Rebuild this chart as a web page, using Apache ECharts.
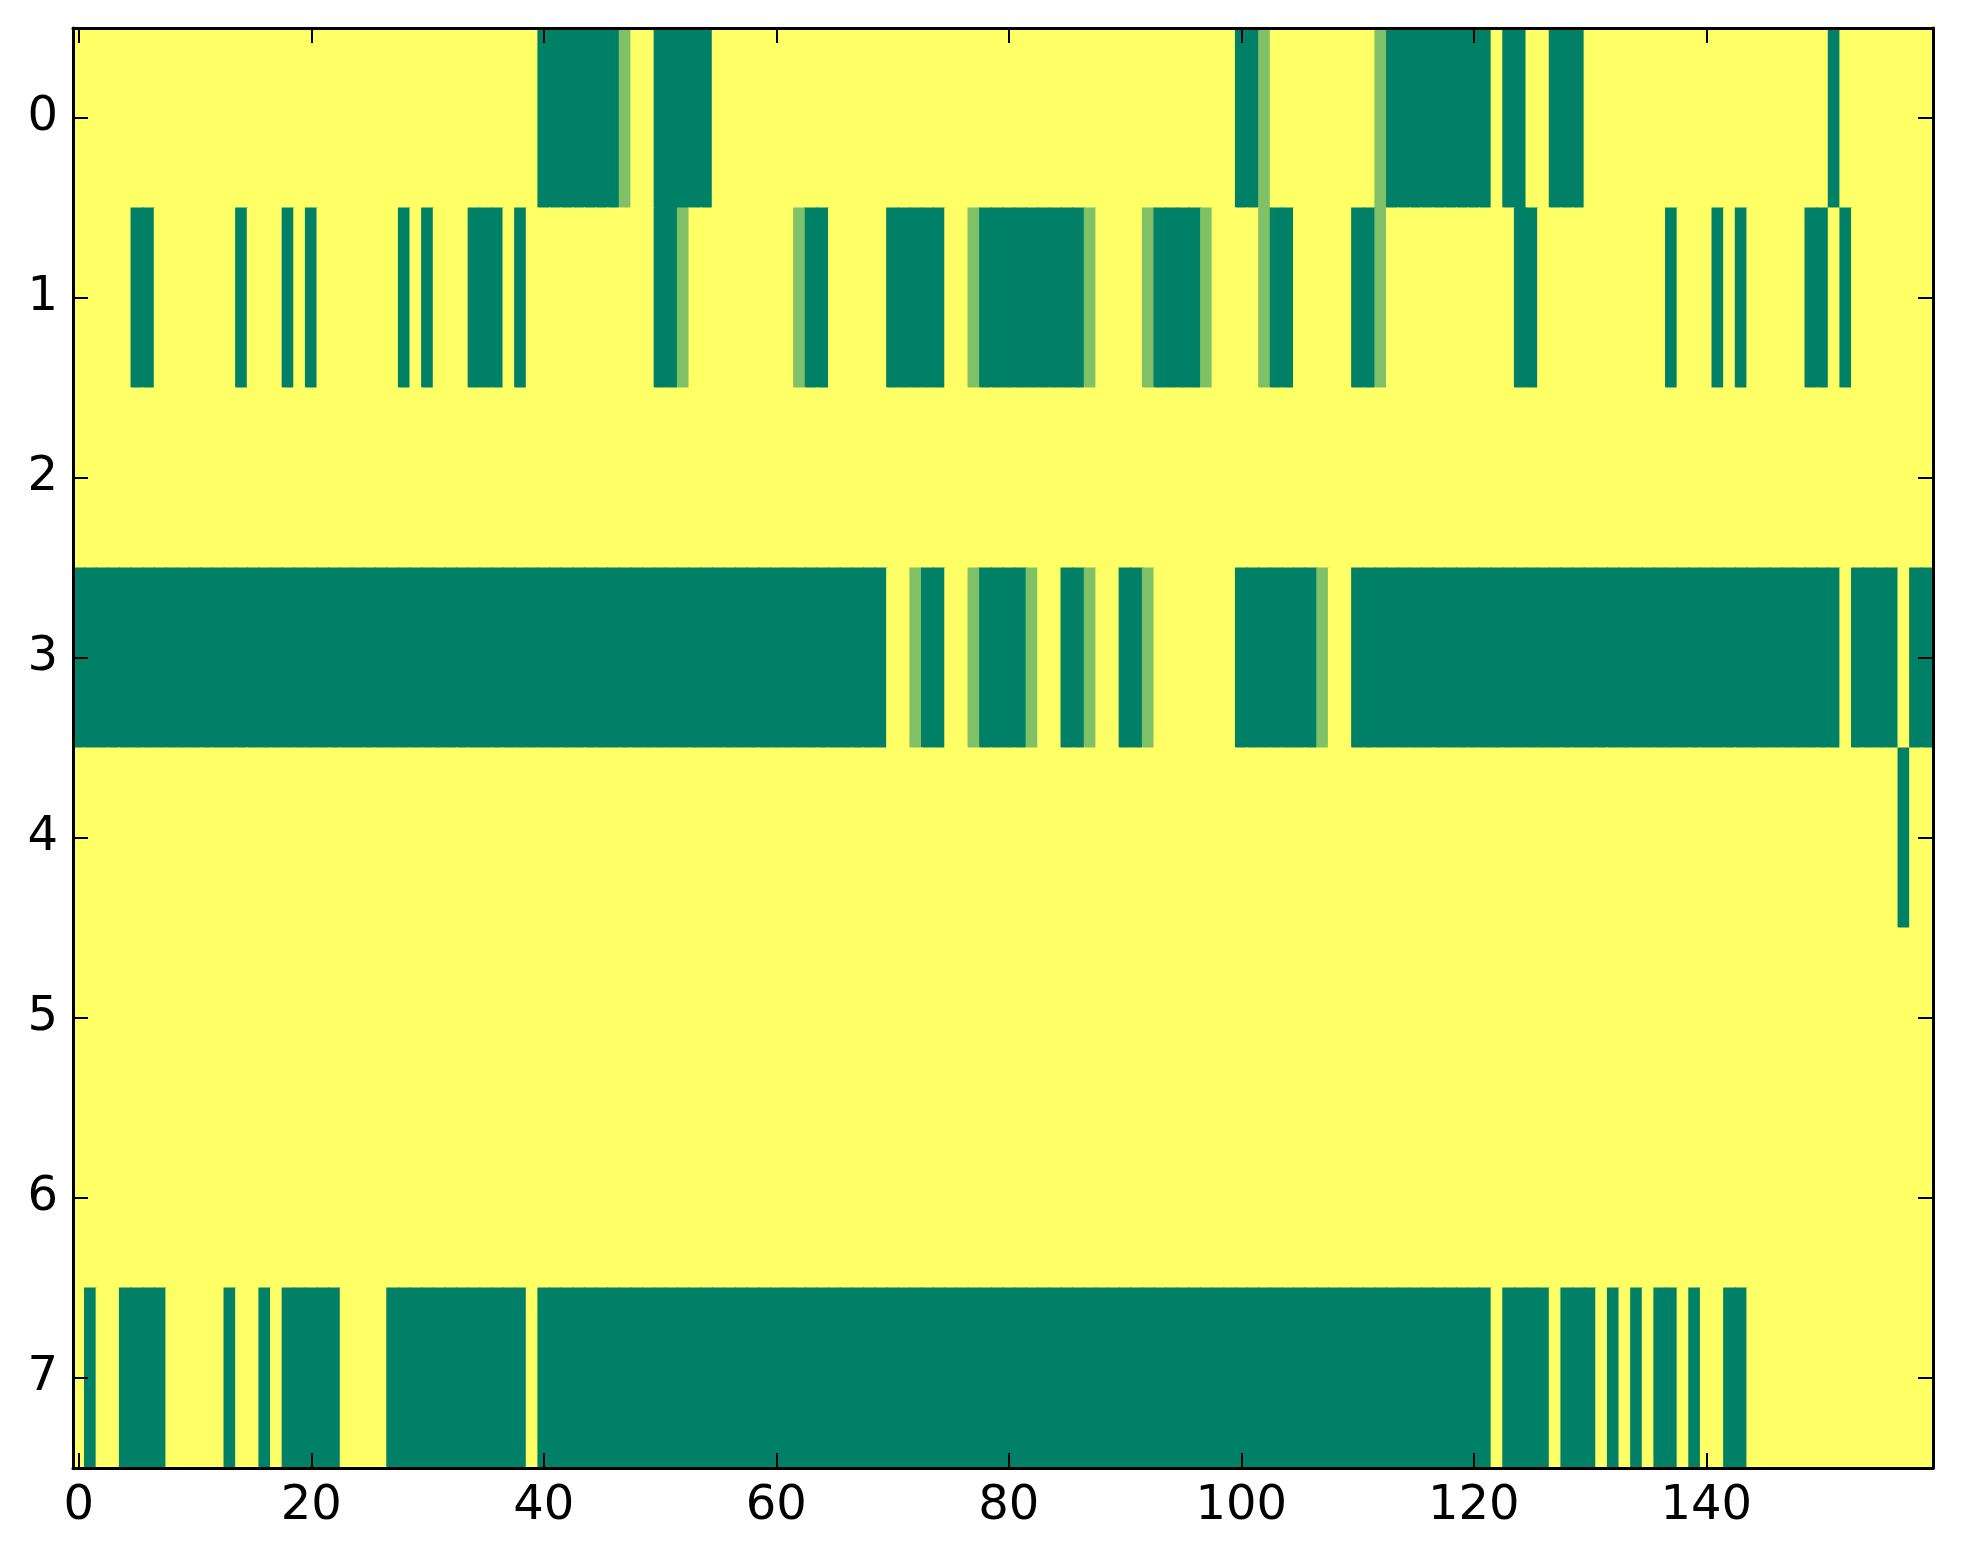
<!DOCTYPE html>
<html>
<head>
<meta charset="utf-8">
<script src="https://cdn.jsdelivr.net/npm/echarts@6/dist/echarts.min.js"></script>
<style>
html,body{margin:0;padding:0;background:#fff;}
#c{width:1963px;height:1564px;}
</style>
</head>
<body>
<div id="c"></div>
<script>
// Column categories 0..159 and row categories 0..7
const xCategories = Array.from({length:160}, (_, i) => String(i));
const yCategories = ['0','1','2','3','4','5','6','7'];
const xTickLabels = ['0','20','40','60','80','100','120','140'];

// Cell values per row (0 = dark green, 0.5 = mid green, 1 = yellow)
const row0 = [
 1,1,1,1,1,1,1,1,1,1,1,1,1,1,1,1,1,1,1,1,
 1,1,1,1,1,1,1,1,1,1,1,1,1,1,1,1,1,1,1,1,
 0,0,0,0,0,0,0,0.5,1,1,0,0,0,0,0,1,1,1,1,1,
 1,1,1,1,1,1,1,1,1,1,1,1,1,1,1,1,1,1,1,1,
 1,1,1,1,1,1,1,1,1,1,1,1,1,1,1,1,1,1,1,1,
 0,0,0.5,1,1,1,1,1,1,1,1,1,0.5,0,0,0,0,0,0,0,
 0,0,1,0,0,1,1,0,0,0,1,1,1,1,1,1,1,1,1,1,
 1,1,1,1,1,1,1,1,1,1,1,0,1,1,1,1,1,1,1,1
];
const row1 = [
 1,1,1,1,1,0,0,1,1,1,1,1,1,1,0,1,1,1,0,1,
 0,1,1,1,1,1,1,1,0,1,0,1,1,1,0,0,0,1,0,1,
 1,1,1,1,1,1,1,1,1,1,0,0,0.5,1,1,1,1,1,1,1,
 1,1,0.5,0,0,1,1,1,1,1,0,0,0,0,0,1,1,0.5,0,0,
 0,0,0,0,0,0,0,0.5,1,1,1,1,0.5,0,0,0,0,0.5,1,1,
 1,1,0.5,0,0,1,1,1,1,1,0,0,0.5,1,1,1,1,1,1,1,
 1,1,1,1,0,0,1,1,1,1,1,1,1,1,1,1,1,0,1,1,
 1,0,1,0,1,1,1,1,1,0,0,1,0,1,1,1,1,1,1,1
];
const row2 = [
 1,1,1,1,1,1,1,1,1,1,1,1,1,1,1,1,1,1,1,1,
 1,1,1,1,1,1,1,1,1,1,1,1,1,1,1,1,1,1,1,1,
 1,1,1,1,1,1,1,1,1,1,1,1,1,1,1,1,1,1,1,1,
 1,1,1,1,1,1,1,1,1,1,1,1,1,1,1,1,1,1,1,1,
 1,1,1,1,1,1,1,1,1,1,1,1,1,1,1,1,1,1,1,1,
 1,1,1,1,1,1,1,1,1,1,1,1,1,1,1,1,1,1,1,1,
 1,1,1,1,1,1,1,1,1,1,1,1,1,1,1,1,1,1,1,1,
 1,1,1,1,1,1,1,1,1,1,1,1,1,1,1,1,1,1,1,1
];
const row3 = [
 0,0,0,0,0,0,0,0,0,0,0,0,0,0,0,0,0,0,0,0,
 0,0,0,0,0,0,0,0,0,0,0,0,0,0,0,0,0,0,0,0,
 0,0,0,0,0,0,0,0,0,0,0,0,0,0,0,0,0,0,0,0,
 0,0,0,0,0,0,0,0,0,0,1,1,0.5,0,0,1,1,0.5,0,0,
 0,0,0.5,1,1,0,0,0.5,1,1,0,0,0.5,1,1,1,1,1,1,1,
 0,0,0,0,0,0,0,0.5,1,1,0,0,0,0,0,0,0,0,0,0,
 0,0,0,0,0,0,0,0,0,0,0,0,0,0,0,0,0,0,0,0,
 0,0,0,0,0,0,0,0,0,0,0,0,1,0,0,0,0,1,0,0
];
const row4 = [
 1,1,1,1,1,1,1,1,1,1,1,1,1,1,1,1,1,1,1,1,
 1,1,1,1,1,1,1,1,1,1,1,1,1,1,1,1,1,1,1,1,
 1,1,1,1,1,1,1,1,1,1,1,1,1,1,1,1,1,1,1,1,
 1,1,1,1,1,1,1,1,1,1,1,1,1,1,1,1,1,1,1,1,
 1,1,1,1,1,1,1,1,1,1,1,1,1,1,1,1,1,1,1,1,
 1,1,1,1,1,1,1,1,1,1,1,1,1,1,1,1,1,1,1,1,
 1,1,1,1,1,1,1,1,1,1,1,1,1,1,1,1,1,1,1,1,
 1,1,1,1,1,1,1,1,1,1,1,1,1,1,1,1,1,0,1,1
];
const row5 = [
 1,1,1,1,1,1,1,1,1,1,1,1,1,1,1,1,1,1,1,1,
 1,1,1,1,1,1,1,1,1,1,1,1,1,1,1,1,1,1,1,1,
 1,1,1,1,1,1,1,1,1,1,1,1,1,1,1,1,1,1,1,1,
 1,1,1,1,1,1,1,1,1,1,1,1,1,1,1,1,1,1,1,1,
 1,1,1,1,1,1,1,1,1,1,1,1,1,1,1,1,1,1,1,1,
 1,1,1,1,1,1,1,1,1,1,1,1,1,1,1,1,1,1,1,1,
 1,1,1,1,1,1,1,1,1,1,1,1,1,1,1,1,1,1,1,1,
 1,1,1,1,1,1,1,1,1,1,1,1,1,1,1,1,1,1,1,1
];
const row6 = [
 1,1,1,1,1,1,1,1,1,1,1,1,1,1,1,1,1,1,1,1,
 1,1,1,1,1,1,1,1,1,1,1,1,1,1,1,1,1,1,1,1,
 1,1,1,1,1,1,1,1,1,1,1,1,1,1,1,1,1,1,1,1,
 1,1,1,1,1,1,1,1,1,1,1,1,1,1,1,1,1,1,1,1,
 1,1,1,1,1,1,1,1,1,1,1,1,1,1,1,1,1,1,1,1,
 1,1,1,1,1,1,1,1,1,1,1,1,1,1,1,1,1,1,1,1,
 1,1,1,1,1,1,1,1,1,1,1,1,1,1,1,1,1,1,1,1,
 1,1,1,1,1,1,1,1,1,1,1,1,1,1,1,1,1,1,1,1
];
const row7 = [
 1,0,1,1,0,0,0,0,1,1,1,1,1,0,1,1,0,1,0,0,
 0,0,0,1,1,1,1,0,0,0,0,0,0,0,0,0,0,0,0,1,
 0,0,0,0,0,0,0,0,0,0,0,0,0,0,0,0,0,0,0,0,
 0,0,0,0,0,0,0,0,0,0,0,0,0,0,0,0,0,0,0,0,
 0,0,0,0,0,0,0,0,0,0,0,0,0,0,0,0,0,0,0,0,
 0,0,0,0,0,0,0,0,0,0,0,0,0,0,0,0,0,0,0,0,
 0,0,1,0,0,0,0,1,0,0,0,1,0,1,0,1,0,0,1,0,
 1,1,0,0,1,1,1,1,1,1,1,1,1,1,1,1,1,1,1,1
];

const rows = [row0,row1,row2,row3,row4,row5,row6,row7];
const cells = [];
rows.forEach((r, y) => r.forEach((v, x) => cells.push([x, y, v])));

const FONT = 'DejaVu Sans';
const lineStyle = {color:'#000', width:3};
const tickStyle = {color:'#000', width:2};
const tickEvery = (i) => xTickLabels.indexOf(String(i)) >= 0;

const chart = echarts.init(document.getElementById('c'), null, {renderer:'canvas'});
chart.setOption({
  backgroundColor:'#ffffff',
  animation:false,
  grid:{left:73, top:28, width:1860, height:1440, containLabel:false},
  xAxis:[
    {type:'category', data:xCategories, position:'bottom', boundaryGap:true, z:10,
     axisLine:{show:true, lineStyle:lineStyle},
     axisTick:{show:true, inside:true, length:15, alignWithLabel:true, interval:tickEvery, lineStyle:tickStyle},
     axisLabel:{show:true, interval:tickEvery, color:'#000', fontFamily:FONT, fontSize:48, margin:15},
     splitLine:{show:false}},
    {type:'category', data:xCategories, position:'top', boundaryGap:true, z:10,
     axisLine:{show:true, lineStyle:lineStyle},
     axisTick:{show:true, inside:true, length:15, alignWithLabel:true, interval:tickEvery, lineStyle:tickStyle},
     axisLabel:{show:false},
     splitLine:{show:false}}
  ],
  yAxis:[
    {type:'category', data:yCategories, inverse:true, position:'left', boundaryGap:true, z:10,
     axisLine:{show:true, lineStyle:lineStyle},
     axisTick:{show:true, inside:true, length:15, alignWithLabel:true, lineStyle:tickStyle},
     axisLabel:{show:true, color:'#000', fontFamily:FONT, fontSize:48, margin:15},
     splitLine:{show:false}},
    {type:'category', data:yCategories, inverse:true, position:'right', boundaryGap:true, z:10,
     axisLine:{show:true, lineStyle:lineStyle},
     axisTick:{show:true, inside:true, length:15, alignWithLabel:true, lineStyle:tickStyle},
     axisLabel:{show:false},
     splitLine:{show:false}}
  ],
  visualMap:{show:false, type:'continuous', min:0, max:1, dimension:2, seriesIndex:0,
    inRange:{color:['#008066','#ffff66']}},
  series:[{
    type:'custom', xAxisIndex:0, yAxisIndex:0, data:cells, z:2, silent:true,
    encode:{x:0, y:1},
    renderItem:function(params, api){
      const c = api.coord([api.value(0), api.value(1)]);
      const s = api.size([1, 1]);
      const pad = 0.6;
      return {
        type:'rect',
        shape:{x:c[0]-s[0]/2-pad, y:c[1]-s[1]/2-pad, width:s[0]+2*pad, height:s[1]+2*pad},
        style:{fill:api.visual('color'), stroke:null}
      };
    }
  }]
});
</script>
</body>
</html>
